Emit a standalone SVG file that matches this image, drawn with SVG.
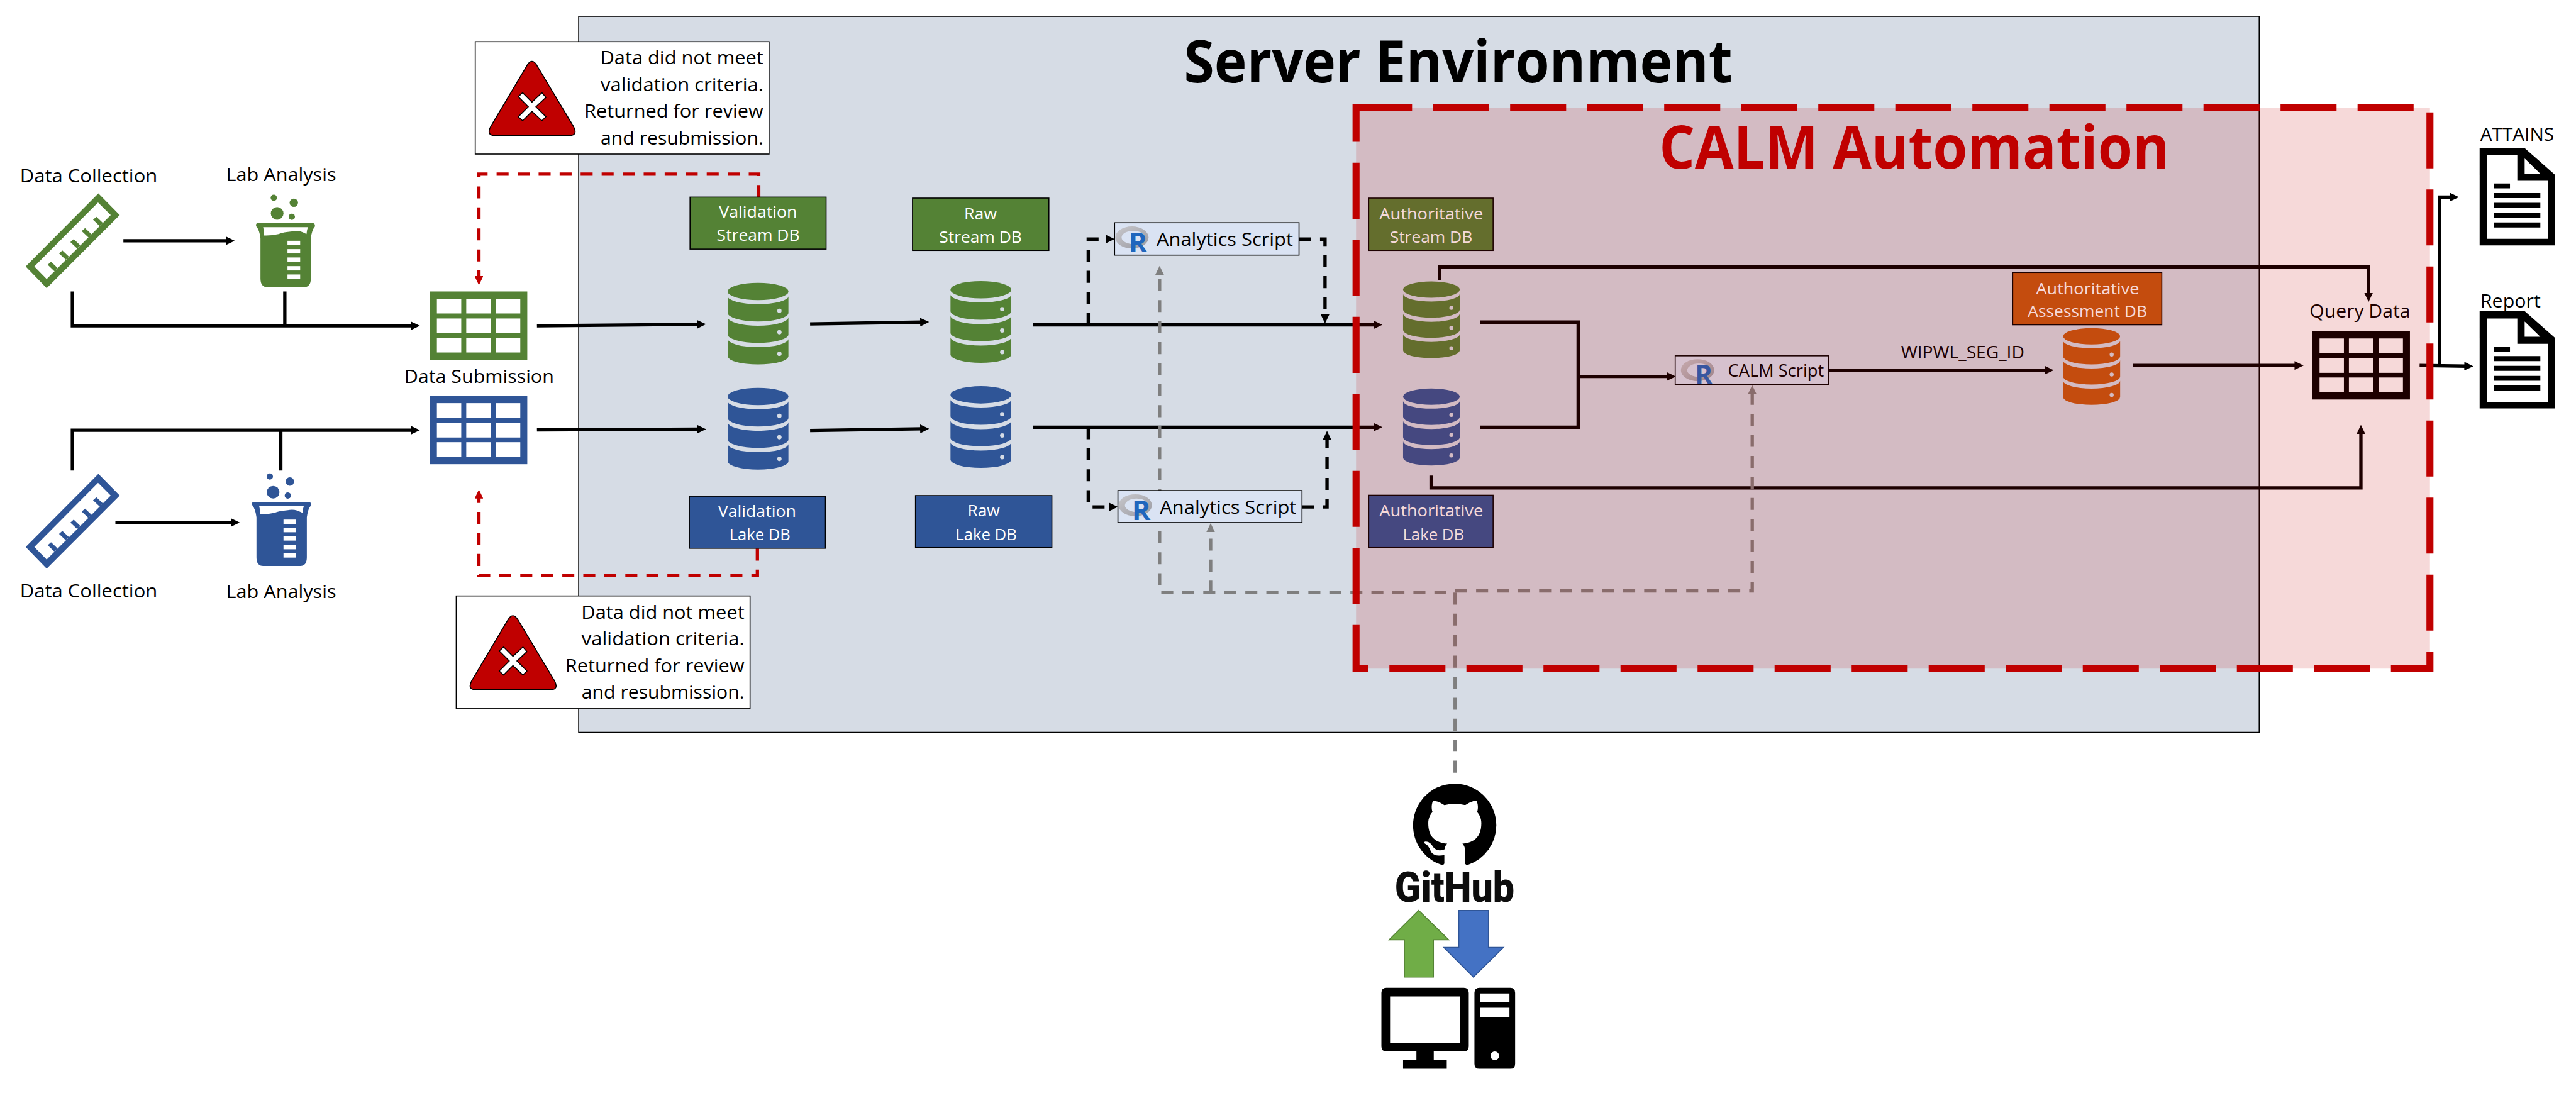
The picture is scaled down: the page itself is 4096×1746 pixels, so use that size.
<svg xmlns="http://www.w3.org/2000/svg" xmlns:xlink="http://www.w3.org/1999/xlink" width="4096" height="1746" viewBox="0 0 4096 1746">
<style>
text{font-family:"Open Sans","Noto Sans",sans-serif;fill:#000}
.s{font-size:56px}
.l{font-size:49px;fill:#fff}
.m{font-size:50px}
.ln{fill:none;stroke:#000;stroke-width:10}
.d{stroke-dasharray:36 27}
.red{fill:none;stroke:#c00000;stroke-width:10;stroke-dasharray:36 27}
.gr{fill:none;stroke:#7f7f7f;stroke-width:10;stroke-dasharray:36 27}
.box{stroke:#000;stroke-width:3}
.rr{font-size:82px;font-weight:700;fill:#1f66bd}
</style>
<defs>
<marker id="ab" markerUnits="userSpaceOnUse" markerWidth="27" markerHeight="26" refX="5" refY="13" orient="auto"><path d="M0 0L27 13L0 26Z" fill="#000"/></marker>
<marker id="ar" markerUnits="userSpaceOnUse" markerWidth="27" markerHeight="26" refX="5" refY="13" orient="auto"><path d="M0 0L27 13L0 26Z" fill="#c00000"/></marker>
<marker id="ag" markerUnits="userSpaceOnUse" markerWidth="27" markerHeight="26" refX="5" refY="13" orient="auto"><path d="M0 0L27 13L0 26Z" fill="#7f7f7f"/></marker>
<g id="db">
<ellipse cx="91" cy="26" rx="91" ry="26"/>
<path d="M0 40A91 24 0 0 0 182 40V90A91 26 0 0 1 0 90Z"/>
<path d="M0 103A91 26 0 0 0 182 103V155A91 25 0 0 1 0 155Z"/>
<path d="M0 168A91 25 0 0 0 182 168V220A91 25 0 0 1 0 220Z"/>
<g fill="#d6dce5"><circle cx="155" cy="84" r="6.5"/><circle cx="155" cy="148" r="6.5"/><circle cx="155" cy="213" r="6.5"/></g>
</g>
<g id="tbl">
<rect width="293" height="205"/>
<g fill="#fff">
<rect x="22" y="22" width="73" height="44"/><rect x="110" y="22" width="73" height="44"/><rect x="199" y="22" width="73" height="44"/>
<rect x="22" y="81" width="73" height="44"/><rect x="110" y="81" width="73" height="44"/><rect x="199" y="81" width="73" height="44"/>
<rect x="22" y="139" width="73" height="44"/><rect x="110" y="139" width="73" height="44"/><rect x="199" y="139" width="73" height="44"/>
</g>
</g>
<g id="ruler">
<path fill-rule="evenodd" d="M295 580L359 645L140 864L77 799ZM294 607L103 799L140 837L332 645Z"/>
<path d="M289 650L309 669L299 678L279 659Z"/>
<path d="M255 684L275 703L265 712L245 693Z"/>
<path d="M221 717L241 736L231 745L211 726Z"/>
<path d="M187 751L207 770L197 779L177 760Z"/>
<path d="M153 785L173 804L163 813L143 794Z"/>
</g>
<g id="beaker">
<path d="M772 669H939Q946 671 944 680Q935 690 932 715V835Q932 861 912 861H801Q781 861 781 835V715Q778 690 769 680Q765 671 772 669Z"/>
<path fill="#fff" d="M789 681H923Q920 690 919 702Q895 688 875 694Q850 696 835 702Q810 707 792 706Q793 695 789 681Z"/>
<g fill="#fff"><rect x="862" y="722" width="38" height="13"/><rect x="862" y="747" width="38" height="13"/><rect x="862" y="772" width="38" height="13"/><rect x="862" y="798" width="38" height="13"/><rect x="862" y="823" width="38" height="13"/></g>
<circle cx="821" cy="593" r="9.5"/><circle cx="881" cy="608" r="12.6"/><circle cx="831" cy="640" r="19"/><circle cx="875" cy="650" r="9.5"/>
</g>
<g id="warn">
<path d="M1578 200Q1595 168 1612 200L1720 380Q1733 406 1708 406H1483Q1458 406 1471 380Z" fill="#c00000" stroke="#000" stroke-width="3" stroke-linejoin="round"/>
<path d="M1567 278L1595 306L1625 278L1637 292L1607 320L1637 350L1625 362L1595 334L1567 362L1554 350L1584 320L1554 290Z" fill="#fff" stroke="#000" stroke-width="3"/>
</g>
<g id="doc">
<path d="M0 0H135L226 80V292H0Z"/>
<path fill="#fff" d="M23 22H113V98H205V272H23ZM135 31V77H182Z"/>
<path d="M43 106H91V121H43ZM43 135H182V150H43ZM43 164H182V179H43ZM43 194H182V209H43ZM43 223H182V238H43Z"/>
</g>
<linearGradient id="rg" x1="0" y1="0" x2="1" y2="1"><stop offset="0" stop-color="#c8c8cc"/><stop offset="1" stop-color="#9a9aa2"/></linearGradient>
<path id="ring" fill="url(#rg)" fill-rule="evenodd" d="M-50 0A50 33 0 1 1 50 0A50 33 0 1 1 -50 0ZM-31 0A35 20 0 1 0 39 0A35 20 0 1 0 -31 0Z"/>
</defs>
<rect width="4096" height="1746" fill="#fff"/>
<g transform="scale(0.5303)">
<g id="server-environment">
<rect x="1735" y="49" width="5039" height="2147" fill="#d6dce5" stroke="#000" stroke-width="3"/>
<text x="3550" y="248" font-size="176" font-weight="700" textLength="1645" lengthAdjust="spacingAndGlyphs">Server Environment</text>
</g>

<g id="connectors">
<path class="ln" marker-end="url(#ab)" d="M370 722H682"/>
<path class="ln" marker-end="url(#ab)" d="M217 874V977H1237"/>
<path class="ln" d="M854 874V977"/>
<path class="ln" marker-end="url(#ab)" d="M217 1411V1290H1237"/>
<path class="ln" d="M842 1411V1290"/>
<path class="ln" marker-end="url(#ab)" d="M346 1567H697"/>
<path class="ln" marker-end="url(#ab)" d="M1610 977L2095 972.5"/>
<path class="ln" marker-end="url(#ab)" d="M1610 1289L2095 1287"/>
<path class="ln" marker-end="url(#ab)" d="M2429 971.5L2764 966"/>
<path class="ln" marker-end="url(#ab)" d="M2429 1291L2764 1286"/>
<path class="ln" marker-end="url(#ab)" d="M3097 974H4123"/>
<path class="ln" marker-end="url(#ab)" d="M3097 1281H4123"/>
<path class="ln" marker-end="url(#ab)" d="M4316 839V800H7102V883"/>
<path class="ln" marker-end="url(#ab)" d="M4291 1426V1463H7079V1296"/>
<path class="ln" d="M4438 966H4732V1281H4438"/>
<path class="ln" marker-end="url(#ab)" d="M4732 1129H5003"/>
<path class="ln" marker-end="url(#ab)" d="M5483 1110H6136"/>
<path class="ln" marker-end="url(#ab)" d="M6395 1096H6885"/>
<path class="ln" marker-end="url(#ab)" d="M7255 1096L7394 1098"/>
<path class="ln" marker-end="url(#ab)" d="M7315 1096V591H7351"/>
<path class="ln d" marker-end="url(#ab)" d="M3263 974V717H3320"/>
<path class="ln d" marker-end="url(#ab)" d="M3895 717H3973V948"/>
<path class="ln d" marker-end="url(#ab)" d="M3263 1281V1520H3330"/>
<path class="ln d" marker-end="url(#ab)" d="M3904 1520H3979V1314"/>
<path class="red" marker-end="url(#ar)" d="M2275 591V522H1436V833"/>
<path class="red" marker-end="url(#ar)" d="M2271 1645V1726H1436V1490"/>
<path class="gr" d="M4363 2317V1772"/>
<path class="gr" marker-end="url(#ag)" stroke-dashoffset="37" d="M4363 1777H3477V819"/>
<path class="gr" marker-end="url(#ag)" d="M3630 1777V1591"/>
<path class="gr" marker-end="url(#ag)" d="M4363 1772H5254V1177"/>
</g>

<g id="stream-data-collection"><use xlink:href="#ruler" fill="#548235"/><text class="s" x="60" y="547" textLength="412" lengthAdjust="spacingAndGlyphs">Data Collection</text></g>
<g id="stream-lab-analysis"><use xlink:href="#beaker" fill="#548235"/><text class="s" x="678" y="543" textLength="330" lengthAdjust="spacingAndGlyphs">Lab Analysis</text></g>
<g id="lake-data-collection"><use xlink:href="#ruler" y="841" fill="#2f5597"/><text class="s" x="60" y="1791" textLength="412" lengthAdjust="spacingAndGlyphs">Data Collection</text></g>
<g id="lake-lab-analysis"><use xlink:href="#beaker" x="-12" y="836" fill="#2f5597"/><text class="s" x="678" y="1794" textLength="330" lengthAdjust="spacingAndGlyphs">Lab Analysis</text></g>

<g id="data-submission">
<use xlink:href="#tbl" x="1288" y="874" fill="#548235"/>
<use xlink:href="#tbl" x="1288" y="1187" fill="#2f5597"/>
<text class="s" x="1212" y="1148" textLength="449" lengthAdjust="spacingAndGlyphs">Data Submission</text>
</g>

<g id="warning-top">
<rect x="1425" y="125" width="881" height="337" fill="#fff" class="box"/>
<use xlink:href="#warn"/>
<text class="s" x="1800" y="193" textLength="489" lengthAdjust="spacingAndGlyphs">Data did not meet</text>
<text class="s" x="1801" y="273" textLength="488" lengthAdjust="spacingAndGlyphs">validation criteria.</text>
<text class="s" x="1752" y="353" textLength="537" lengthAdjust="spacingAndGlyphs">Returned for review</text>
<text class="s" x="1801" y="433" textLength="488" lengthAdjust="spacingAndGlyphs">and resubmission.</text>
</g>
<g id="warning-bottom">
<rect x="1368" y="1787" width="881" height="338" fill="#fff" class="box"/>
<use xlink:href="#warn" x="-57" y="1662"/>
<text class="s" x="1743" y="1855" textLength="489" lengthAdjust="spacingAndGlyphs">Data did not meet</text>
<text class="s" x="1744" y="1935" textLength="488" lengthAdjust="spacingAndGlyphs">validation criteria.</text>
<text class="s" x="1695" y="2015" textLength="537" lengthAdjust="spacingAndGlyphs">Returned for review</text>
<text class="s" x="1744" y="2095" textLength="488" lengthAdjust="spacingAndGlyphs">and resubmission.</text>
</g>

<g id="validation-stream-db">
<rect class="box" x="2069" y="591" width="408" height="156" fill="#548235"/>
<text class="l" x="2156" y="653" textLength="234" lengthAdjust="spacingAndGlyphs">Validation</text>
<text class="l" x="2149" y="722" textLength="249" lengthAdjust="spacingAndGlyphs">Stream DB</text>
<use xlink:href="#db" transform="translate(2182 848)" fill="#548235"/>
</g>
<g id="validation-lake-db">
<rect class="box" x="2067" y="1488" width="408" height="156" fill="#2f5597"/>
<text class="l" x="2153" y="1550" textLength="234" lengthAdjust="spacingAndGlyphs">Validation</text>
<text class="l" x="2187" y="1620" textLength="183" lengthAdjust="spacingAndGlyphs">Lake DB</text>
<use xlink:href="#db" transform="translate(2182 1163)" fill="#2f5597"/>
</g>
<g id="raw-stream-db">
<rect class="box" x="2736" y="594" width="409" height="157" fill="#548235"/>
<text class="l" x="2891" y="658" textLength="98" lengthAdjust="spacingAndGlyphs">Raw</text>
<text class="l" x="2816" y="728" textLength="248" lengthAdjust="spacingAndGlyphs">Stream DB</text>
<use xlink:href="#db" transform="translate(2850 843)" fill="#548235"/>
</g>
<g id="raw-lake-db">
<rect class="box" x="2745" y="1486" width="409" height="156" fill="#2f5597"/>
<text class="l" x="2901" y="1549" textLength="97" lengthAdjust="spacingAndGlyphs">Raw</text>
<text class="l" x="2865" y="1619" textLength="184" lengthAdjust="spacingAndGlyphs">Lake DB</text>
<use xlink:href="#db" transform="translate(2850 1158)" fill="#2f5597"/>
</g>
<g id="authoritative-stream-db">
<rect class="box" x="4104" y="594" width="373" height="157" fill="#548235"/>
<text class="l" x="4136" y="658" textLength="311" lengthAdjust="spacingAndGlyphs">Authoritative</text>
<text class="l" x="4167" y="728" textLength="248" lengthAdjust="spacingAndGlyphs">Stream DB</text>
<use xlink:href="#db" transform="translate(4207 844) scale(.934 .939)" fill="#548235"/>
</g>
<g id="authoritative-lake-db">
<rect class="box" x="4104" y="1485" width="373" height="157" fill="#2f5597"/>
<text class="l" x="4136" y="1549" textLength="311" lengthAdjust="spacingAndGlyphs">Authoritative</text>
<text class="l" x="4206" y="1619" textLength="184" lengthAdjust="spacingAndGlyphs">Lake DB</text>
<use xlink:href="#db" transform="translate(4207 1165) scale(.934 .943)" fill="#2f5597"/>
</g>
<g id="authoritative-assessment-db">
<rect class="box" x="6035" y="817" width="447" height="157" fill="#c55a11"/>
<text class="l" x="6105" y="882" textLength="309" lengthAdjust="spacingAndGlyphs">Authoritative</text>
<text class="l" x="6080" y="950" textLength="358" lengthAdjust="spacingAndGlyphs">Assessment DB</text>
<use xlink:href="#db" transform="translate(6186 984) scale(.94 .939)" fill="#c55a11"/>
</g>

<g id="analytics-script-stream">
<rect class="box" x="3342" y="668" width="553" height="97" fill="#dae3f3"/>
<use xlink:href="#ring" x="3394" y="712"/>
<text class="rr" x="3384" y="756" textLength="56" lengthAdjust="spacingAndGlyphs">R</text>
<text class="s" x="3468" y="737" textLength="409" lengthAdjust="spacingAndGlyphs">Analytics Script</text>
</g>
<g id="analytics-script-lake">
<rect class="box" x="3352" y="1471" width="552" height="96" fill="#dae3f3"/>
<use xlink:href="#ring" x="3404" y="1515"/>
<text class="rr" x="3394" y="1559" textLength="56" lengthAdjust="spacingAndGlyphs">R</text>
<text class="s" x="3478" y="1540" textLength="409" lengthAdjust="spacingAndGlyphs">Analytics Script</text>
</g>
<g id="calm-script">
<rect class="box" x="5023" y="1067" width="460" height="86" fill="#dae3f3"/>
<use xlink:href="#ring" x="5090" y="1110"/>
<text class="rr" x="5082" y="1153" textLength="53" lengthAdjust="spacingAndGlyphs">R</text>
<text class="m" x="5181" y="1129" textLength="288" lengthAdjust="spacingAndGlyphs">CALM Script</text>
</g>
<text id="wipwl-label" class="m" x="5700" y="1075" textLength="370" lengthAdjust="spacingAndGlyphs">WIPWL_SEG_ID</text>
<g id="query-data">
<use xlink:href="#tbl" x="6933" y="993" fill="#000"/>
<text class="s" x="6925" y="953" textLength="302" lengthAdjust="spacingAndGlyphs">Query Data</text>
</g>

<g id="calm-automation">
<rect x="4066" y="323" width="3220" height="1682" fill="#c00000" fill-opacity=".15" stroke="#c00000" stroke-width="21" stroke-dasharray="168 63"/>
<text x="4975" y="506" font-size="178" font-weight="700" style="fill:#c00000" textLength="1530" lengthAdjust="spacingAndGlyphs">CALM Automation</text>
</g>

<g id="attains">
<use xlink:href="#doc" x="7435" y="444"/>
<text class="s" x="7437" y="422" textLength="221" lengthAdjust="spacingAndGlyphs">ATTAINS</text>
</g>
<g id="report">
<use xlink:href="#doc" x="7435" y="933"/>
<text class="s" x="7437" y="923" textLength="181" lengthAdjust="spacingAndGlyphs">Report</text>
</g>

<g id="github">
<path transform="translate(4237 2350) scale(15.6)" d="M8 0C3.58 0 0 3.58 0 8c0 3.54 2.29 6.53 5.47 7.59.4.07.55-.17.55-.38 0-.19-.01-.82-.01-1.49-2.01.37-2.53-.49-2.69-.94-.09-.23-.48-.94-.82-1.13-.28-.15-.68-.52-.01-.53.63-.01 1.08.58 1.23.82.72 1.21 1.87.87 2.33.66.07-.52.28-.87.51-1.07-1.78-.2-3.64-.89-3.64-3.95 0-.87.31-1.59.82-2.15-.08-.2-.36-1.02.08-2.12 0 0 .67-.21 2.2.82.64-.18 1.32-.27 2-.27.68 0 1.36.09 2 .27 1.53-1.04 2.2-.82 2.2-.82.44 1.1.16 1.92.08 2.12.51.56.82 1.27.82 2.15 0 3.07-1.87 3.75-3.65 3.95.29.25.54.73.54 1.48 0 1.07-.01 1.93-.01 2.2 0 .21.15.46.55.38A8.013 8.013 0 0016 8c0-4.42-3.58-8-8-8z"/>
<text x="4182" y="2705" font-size="126" font-weight="900" style="font-family:Roboto,'Open Sans',sans-serif;fill:#0d0d0d" textLength="359" lengthAdjust="spacingAndGlyphs">GitHub</text>
</g>
<g id="push-pull">
<path d="M4254 2730L4344 2818H4298V2930H4211V2818H4165Z" fill="#70ad47" stroke="#548235" stroke-width="3"/>
<path d="M4374 2730H4463V2841H4508L4418 2930L4329 2841H4374Z" fill="#4472c4" stroke="#2f5597" stroke-width="3"/>
</g>
<g id="computer">
<path fill-rule="evenodd" d="M4157 2962H4389Q4404 2962 4404 2977V3138Q4404 3153 4389 3153H4299V3179H4338V3205H4207V3179H4247V3153H4157Q4142 3153 4142 3138V2977Q4142 2962 4157 2962ZM4168 2988V3127H4378V2988Z"/>
<path fill-rule="evenodd" d="M4436 2962H4528Q4543 2962 4543 2977V3190Q4543 3205 4528 3205H4436Q4421 3205 4421 3190V2977Q4421 2962 4436 2962ZM4438 2979V3005H4526V2979ZM4438 3022V3049H4526V3022ZM4469 3166A13 13 0 1 0 4495 3166A13 13 0 1 0 4469 3166Z"/>
</g>
</g>
</svg>
